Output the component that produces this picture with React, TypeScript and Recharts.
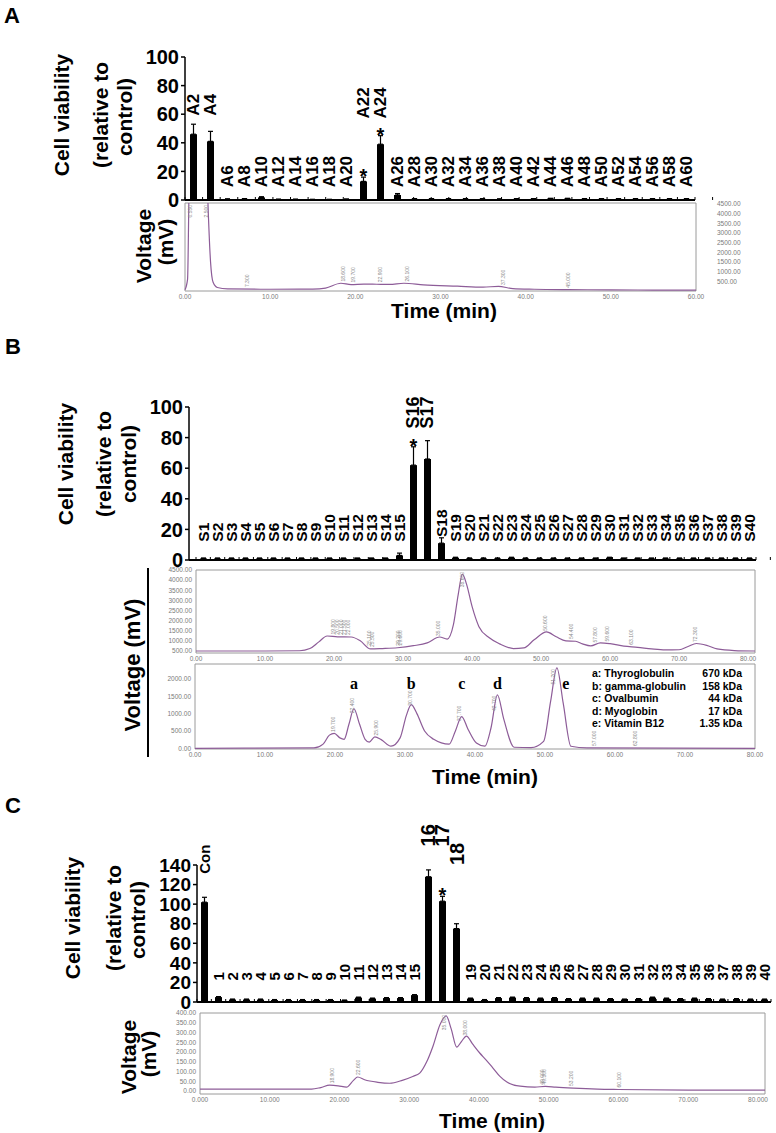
import React from "react";
import {
  BarChart,
  Bar,
  XAxis,
  YAxis,
  ErrorBar,
  LineChart,
  Line,
  ReferenceArea,
  ReferenceDot,
} from "recharts";

const FONT = "'Liberation Sans', Arial, Helvetica, sans-serif";
const SERIF = "'Liberation Serif', 'Times New Roman', serif";
const TRACE = "#8d5c98";
const FRAME = "#9a9a9a";
const TINY = "#7a7a7a";

// ─── Panel A: cell viability of the first fractionation ──────────────────────
const A_FRACTIONS = [
  "A2", "A4", "A6", "A8", "A10", "A12", "A14", "A16", "A18", "A20",
  "A22", "A24", "A26", "A28", "A30", "A32", "A34", "A36", "A38", "A40",
  "A42", "A44", "A46", "A48", "A50", "A52", "A54", "A56", "A58", "A60",
];
const A_VIABILITY = [
  46, 41, 0.6, 0.8, 1.8, 0.4, 0.4, 0.3, 0.3, 0.5,
  13, 39, 3.5, 0.8, 0.8, 0.8, 0.8, 0.8, 0.6, 0.8,
  0.8, 1, 1, 0.8, 0.8, 0.8, 0.8, 0.8, 0.8, 0.8,
];
const A_ERROR = [
  7, 7, 0.2, 0.2, 0.5, 0.2, 0.2, 0.2, 0.2, 0.2,
  3, 6, 1, 0.2, 0.2, 0.2, 0.2, 0.2, 0.2, 0.2,
  0.2, 0.2, 0.2, 0.2, 0.2, 0.2, 0.2, 0.2, 0.2, 0.2,
];
const A_STARS = ["A22", "A24"];

// chromatogram A (min, mV)
const A_TIME = [0, 0.3, 0.5, 0.8, 2.4, 2.7, 3.0, 3.3, 3.8, 5, 10, 15, 16.5, 18.3, 19.5, 21, 22.5, 24, 25.7, 28, 32, 35, 36.8, 38.5, 41, 45, 50, 55, 60];
const A_SIGNAL = [60, 600, 6000, 9000, 9000, 4500, 1500, 450, 180, 110, 90, 100, 150, 400, 330, 360, 350, 340, 400, 320, 250, 200, 240, 120, 90, 70, 60, 50, 50];
const A_PEAKS = [0.55, 2.5, 7.3, 18.6, 19.7, 22.9, 26.1, 37.3, 45.0];

// ─── Panel B: second fractionation ───────────────────────────────────────────
const B_FRACTIONS = [
  "S1", "S2", "S3", "S4", "S5", "S6", "S7", "S8", "S9", "S10",
  "S11", "S12", "S13", "S14", "S15", "S16", "S17", "S18", "S19", "S20",
  "S21", "S22", "S23", "S24", "S25", "S26", "S27", "S28", "S29", "S30",
  "S31", "S32", "S33", "S34", "S35", "S36", "S37", "S38", "S39", "S40",
];
const B_VIABILITY = [
  1, 1, 1, 1, 1, 1, 1, 1, 1, 1,
  1, 1, 1, 1, 3, 62, 66, 11, 1.5, 1,
  1, 1, 1.5, 1, 1, 1, 1, 1, 1, 1.5,
  1, 1, 1, 1, 1, 1, 1, 1, 1, 1,
];
const B_ERROR = [
  0.3, 0.3, 0.3, 0.3, 0.3, 0.3, 0.3, 0.3, 0.3, 0.3,
  0.3, 0.3, 0.3, 0.3, 1.5, 12, 12, 3.5, 0.3, 0.3,
  0.3, 0.3, 0.3, 0.3, 0.3, 0.3, 0.3, 0.3, 0.3, 0.3,
  0.3, 0.3, 0.3, 0.3, 0.3, 0.3, 0.3, 0.3, 0.3, 0.3,
];
const B_STARS = ["S16"];

// sample chromatogram (min, mV)
const B_TIME = [0, 10, 15, 16.5, 17.8, 19, 20.5, 22.5, 23.8, 25.3, 27, 29.2, 31.5, 33.5, 35.3, 36.4, 37.3, 38, 38.6, 39.2, 40, 41, 42.5, 44, 46, 47.5, 49, 50.8, 52.2, 53.6, 55, 56, 57.2, 58.6, 60, 62, 64, 66, 68, 70, 71.3, 72.5, 74, 75.5, 78, 81];
const B_SIGNAL = [500, 500, 510, 620, 950, 1240, 1200, 1190, 1000, 600, 620, 660, 760, 900, 1190, 1090, 1800, 3300, 4300, 3800, 2700, 1700, 1150, 850, 620, 650, 1050, 1440, 1200, 1000, 980, 850, 750, 900, 860, 740, 680, 600, 550, 560, 720, 870, 780, 600, 520, 500];
const B_PEAKS = [19.8, 20.5, 21.0, 21.5, 22.0, 25.1, 25.5, 29.2, 29.6, 35.0, 38.6, 50.6, 54.4, 57.8, 59.6, 63.1, 72.3];

// molecular weight standards (min, mV)
const STD_TIME = [0, 17, 18.3, 19.2, 19.9, 20.7, 21.3, 22, 22.7, 23.5, 24.3, 24.9, 25.7, 26.6, 28, 29.3, 30.2, 30.9, 31.7, 32.8, 34.1, 36.3, 37.2, 38.1, 39, 40.2, 41.4, 42.3, 43.2, 44.1, 45.6, 48, 49.8, 50.8, 51.7, 52.6, 53.7, 56, 80];
const STD_SIGNAL = [0, 10, 120, 380, 430, 300, 260, 700, 1140, 700, 260, 180, 330, 250, 60, 300, 950, 1260, 1000, 500, 260, 120, 500, 915, 550, 150, 60, 600, 1540, 850, 30, 20, 200, 1350, 2320, 1300, 60, 10, 0];
const STD_PEAK_TIMES = [19.7, 22.4, 25.9, 30.7, 37.7, 42.7, 51.2, 57.0, 62.8];
const STD_LETTERS = ["a", "b", "c", "d", "e"];
const STD_PEAKS = [22.7, 30.9, 38.1, 43.2, 51.7];
const STD_NAMES = ["Thyroglobulin", "gamma-globulin", "Ovalbumin", "Myoglobin", "Vitamin B12"];
const STD_SIZES = ["670 kDa", "158 kDa", "44  kDa", "17 kDa", "1.35 kDa"];

// ─── Panel C: third fractionation ────────────────────────────────────────────
const C_FRACTIONS = [
  "Con", "1", "2", "3", "4", "5", "6", "7", "8", "9", "10",
  "11", "12", "13", "14", "15", "16", "17", "18", "19", "20",
  "21", "22", "23", "24", "25", "26", "27", "28", "29", "30",
  "31", "32", "33", "34", "35", "36", "37", "38", "39", "40",
];
const C_VIABILITY = [
  102, 5, 2.5, 2.5, 2.5, 2, 2, 2, 2, 2, 1.5,
  4.5, 3.5, 4, 4, 7, 128, 103, 75, 3.5, 2,
  4, 4.5, 4, 3.5, 4, 3, 3.5, 3.5, 3, 2.5,
  3, 4.5, 3.5, 3, 3.5, 3, 2.5, 3, 2.5, 2.5,
];
const C_ERROR = [
  5, 0.5, 0.5, 0.5, 0.5, 0.5, 0.5, 0.5, 0.5, 0.5, 0.5,
  0.5, 0.5, 0.5, 0.5, 0.5, 7, 5, 5, 0.5, 0.5,
  0.5, 0.5, 0.5, 0.5, 0.5, 0.5, 0.5, 0.5, 0.5, 0.5,
  0.5, 0.5, 0.5, 0.5, 0.5, 0.5, 0.5, 0.5, 0.5, 0.5,
];
const C_STARS = ["17"];

const C_TIME = [0, 16, 17.3, 18.6, 19.8, 21, 22, 22.6, 23.6, 25.5, 27.2, 29, 30.5, 31.5, 32.5, 33.4, 34.4, 35.3, 36, 36.8, 37.5, 38.2, 39.1, 40.1, 41, 42, 43, 44, 45.9, 48, 49.5, 51, 53.5, 57, 60, 70, 81];
const C_SIGNAL = [10, 10, 18, 30, 27, 20, 55, 72, 58, 45, 40, 55, 75, 92, 150, 230, 340, 385, 320, 225, 255, 282, 240, 195, 160, 118, 75, 46, 25, 20, 24, 20, 15, 10, 8, 5, 5];
const C_PEAKS = [18.9, 22.6, 35.0, 38.0, 49.0, 49.3, 53.2, 60.1];

// ─── Helpers ─────────────────────────────────────────────────────────────────
type Rule = { tall: number; gap: number; low: number; starRoom: number };
type Row = {
  name: string;
  value: number;
  err: [number, number];
  star: boolean;
  reach: number;
  level: number;
  tall: boolean;
};

function buildRows(
  names: string[],
  values: number[],
  errors: number[],
  stars: string[],
  rule: Rule,
): Row[] {
  const isTall = (i: number) => values[i] >= rule.tall;
  const reach = values.map(
    (v, i) => v + errors[i] + (stars.includes(names[i]) ? rule.starRoom : 0),
  );
  return names.map((name, i) => {
    let level: number;
    if (isTall(i)) {
      const near = [i - 1, i, i + 1].filter(
        (j) => j >= 0 && j < names.length && isTall(j),
      );
      level = Math.max(...near.map((j) => reach[j])) + rule.gap;
    } else {
      level = Math.max(rule.low, values[i] + errors[i] + 0.5);
    }
    return {
      name,
      value: values[i],
      err: [0, errors[i]],
      star: stars.includes(name),
      reach: values[i] + errors[i],
      level,
      tall: isTall(i),
    };
  });
}

const range = (a: number, b: number, step: number) => {
  const out: number[] = [];
  for (let v = a; v <= b + 1e-9; v += step) out.push(v);
  return out;
};

// trace height at a given time (linear between read points)
function signalAt(times: number[], signal: number[], t: number) {
  for (let i = 1; i < times.length; i++) {
    if (t <= times[i]) {
      const f = (t - times[i - 1]) / (times[i] - times[i - 1]);
      return signal[i - 1] + f * (signal[i] - signal[i - 1]);
    }
  }
  return signal[signal.length - 1];
}

function barShape(fontFor: (r: Row) => number) {
  return (props: any) => {
    const { x, y, width, height, payload } = props;
    const r = payload as Row;
    const unit = r.value > 0 ? height / r.value : 0;
    const base = y + height;
    const cx = x + width / 2;
    const ly = base - r.level * unit;
    const sy = base - r.reach * unit;
    return (
      <g>
        <rect x={x} y={y} width={width} height={height} fill="#000" />
        <text
          transform={`rotate(-90 ${cx} ${ly})`}
          x={cx}
          y={ly}
          textAnchor="start"
          dominantBaseline="central"
          fontFamily={FONT}
          fontWeight={700}
          fontSize={fontFor(r)}
          fill="#000"
        >
          {r.name}
        </text>
        {r.star && (
          <text
            x={cx}
            y={sy + 6}
            textAnchor="middle"
            fontFamily={FONT}
            fontWeight={700}
            fontSize={20}
            fill="#000"
          >
            *
          </text>
        )}
      </g>
    );
  };
}

type ViabilityProps = {
  rows: Row[];
  top: number;
  height: number;
  margin: { top: number; right: number; bottom: number; left: number };
  yWidth: number;
  yMax: number;
  yStep: number;
  yFont: number;
  padLeft: number;
  fontFor: (r: Row) => number;
};

function ViabilityChart({ rows, top, height, margin, yWidth, yMax, yStep, yFont, padLeft, fontFor }: ViabilityProps) {
  const bounds = range(0, rows.length, 1);
  return (
    <div style={{ position: "absolute", left: 0, top, width: 776, height }}>
      <BarChart width={776} height={height} data={rows} margin={margin}>
        <XAxis xAxisId="cat" dataKey="name" hide padding={{ left: padLeft, right: 0 }} />
        <XAxis
          xAxisId="grid"
          type="number"
          domain={[0, rows.length]}
          ticks={bounds}
          interval={0}
          padding={{ left: padLeft, right: 0 }}
          height={2}
          mirror
          tickSize={3}
          tickFormatter={() => ""}
          axisLine={{ stroke: "#000", strokeWidth: 2 }}
          tickLine={{ stroke: "#000", strokeWidth: 1 }}
        />
        <YAxis
          width={yWidth}
          domain={[0, yMax]}
          ticks={range(0, yMax, yStep)}
          interval={0}
          tickSize={4}
          tickMargin={2}
          axisLine={{ stroke: "#000", strokeWidth: 1.5 }}
          tickLine={{ stroke: "#000", strokeWidth: 1.5 }}
          tick={{ fontSize: yFont, fontWeight: 700, fill: "#000", fontFamily: FONT }}
        />
        <Bar
          xAxisId="cat"
          dataKey="value"
          barSize={7}
          fill="#000"
          shape={barShape(fontFor)}
          isAnimationActive={false}
        >
          <ErrorBar dataKey="err" width={2.5} strokeWidth={1.2} stroke="#000" direction="y" />
        </Bar>
      </BarChart>
    </div>
  );
}

type ChromProps = {
  top: number;
  height: number;
  margin: { top: number; right: number; bottom: number; left: number };
  yWidth: number;
  yRight?: boolean;
  yTickSize: number;
  times: number[];
  signal: number[];
  peaks: number[];
  xMax: number;
  xTickMax: number;
  yDomain: [number, number];
  yTicks: number[];
  digits: number;
  children?: React.ReactNode;
};

function Chromatogram(p: ChromProps) {
  const rows = p.times.map((t, i) => ({ t, v: p.signal[i] }));
  const tinyTick = { fontSize: 6.5, fill: TINY, fontFamily: FONT };
  const top = p.yDomain[1];
  return (
    <div style={{ position: "absolute", left: 0, top: p.top, width: 776, height: p.height }}>
      <LineChart width={776} height={p.height} data={rows} margin={p.margin}>
        <XAxis
          dataKey="t"
          type="number"
          domain={[0, p.xMax]}
          ticks={range(0, p.xTickMax, 10)}
          interval={0}
          height={10}
          axisLine={false}
          tickLine={false}
          tickSize={1}
          tick={tinyTick}
          tickFormatter={(v: number) => v.toFixed(p.digits)}
        />
        <YAxis
          orientation={p.yRight ? "right" : "left"}
          width={p.yWidth}
          domain={p.yDomain}
          ticks={p.yTicks}
          interval={0}
          allowDataOverflow
          axisLine={false}
          tickLine={false}
          tickSize={p.yTickSize}
          tickMargin={1}
          tick={tinyTick}
          tickFormatter={(v: number) => v.toFixed(2)}
        />
        <ReferenceArea
          x1={0}
          x2={p.xMax}
          y1={p.yDomain[0]}
          y2={p.yDomain[1]}
          stroke={FRAME}
          strokeWidth={1}
          fill="none"
          fillOpacity={0}
        />
        <Line
          dataKey="v"
          type="monotone"
          stroke={TRACE}
          strokeWidth={1.2}
          dot={false}
          isAnimationActive={false}
        />
        {p.peaks.map((t) => {
          const h = signalAt(p.times, p.signal, t);
          const clipped = h >= top * 0.92;
          return (
            <ReferenceDot
              key={`pk${t}`}
              x={t}
              y={clipped ? top : h}
              r={0}
              ifOverflow="visible"
              shape={(s: any) => {
                const yy = clipped ? s.cy + 2 : s.cy - 2;
                return (
                  <text
                    transform={`rotate(-90 ${s.cx} ${yy})`}
                    x={s.cx}
                    y={yy}
                    textAnchor={clipped ? "end" : "start"}
                    dominantBaseline="central"
                    fontFamily={FONT}
                    fontSize={5}
                    fill="#8a8a8a"
                  >
                    {t.toFixed(3)}
                  </text>
                );
              }}
            />
          );
        })}
        {p.children}
      </LineChart>
    </div>
  );
}

function Rot({ x, y, size, children }: { x: number; y: number; size: number; children: React.ReactNode }) {
  return (
    <text
      transform={`rotate(-90 ${x} ${y})`}
      x={x}
      y={y}
      textAnchor="middle"
      dominantBaseline="central"
      fontFamily={FONT}
      fontWeight={700}
      fontSize={size}
      fill="#000"
    >
      {children}
    </text>
  );
}

function Plain({ x, y, size, children, anchor = "middle" }: { x: number; y: number; size: number; children: React.ReactNode; anchor?: string }) {
  return (
    <text
      x={x}
      y={y}
      textAnchor={anchor as any}
      dominantBaseline="central"
      fontFamily={FONT}
      fontWeight={700}
      fontSize={size}
      fill="#000"
    >
      {children}
    </text>
  );
}

const STD_LEVEL = 1700;

export default function App() {
  const aRows = buildRows(A_FRACTIONS, A_VIABILITY, A_ERROR, A_STARS, { tall: 10, gap: 6, low: 9, starRoom: 6 });
  const bRows = buildRows(B_FRACTIONS, B_VIABILITY, B_ERROR, B_STARS, { tall: 20, gap: 6, low: 12, starRoom: 6 });
  const cRows = buildRows(C_FRACTIONS, C_VIABILITY, C_ERROR, C_STARS, { tall: 20, gap: 24, low: 22, starRoom: 8 });

  return (
    <div style={{ position: "absolute", left: 0, top: 0, width: 776, height: 1133, background: "#fff", overflow: "hidden" }}>
      {/* Panel A */}
      <ViabilityChart
        rows={aRows}
        top={0}
        height={215}
        margin={{ top: 57, right: 81, bottom: 15, left: 0 }}
        yWidth={185}
        yMax={100}
        yStep={20}
        yFont={20}
        padLeft={0}
        fontFor={() => 17}
      />
      <Chromatogram
        top={195}
        height={110}
        margin={{ top: 8, right: 30, bottom: 4, left: 185 }}
        yWidth={50}
        yRight
        yTickSize={20}
        times={A_TIME}
        signal={A_SIGNAL}
        peaks={A_PEAKS}
        xMax={60}
        xTickMax={60}
        yDomain={[0, 4550]}
        yTicks={range(500, 4500, 500)}
        digits={2}
      />

      {/* Panel B */}
      <ViabilityChart
        rows={bRows}
        top={380}
        height={195}
        margin={{ top: 27, right: 20, bottom: 15, left: 0 }}
        yWidth={189}
        yMax={100}
        yStep={20}
        yFont={20}
        padLeft={7}
        fontFor={(r) => (r.tall ? 18 : 15.5)}
      />
      <Chromatogram
        top={560}
        height={106}
        margin={{ top: 10, right: 21, bottom: 3, left: 0 }}
        yWidth={196}
        yTickSize={3}
        times={B_TIME}
        signal={B_SIGNAL}
        peaks={B_PEAKS}
        xMax={81}
        xTickMax={80}
        yDomain={[400, 4500]}
        yTicks={range(500, 4500, 500)}
        digits={2}
      />
      <Chromatogram
        top={655}
        height={107}
        margin={{ top: 9, right: 21, bottom: 3, left: 0 }}
        yWidth={195}
        yTickSize={3}
        times={STD_TIME}
        signal={STD_SIGNAL}
        peaks={STD_PEAK_TIMES}
        xMax={80}
        xTickMax={80}
        yDomain={[-20, 2430]}
        yTicks={range(0, 2000, 500)}
        digits={2}
      >
        {STD_LETTERS.map((l, i) => (
          <ReferenceDot
            key={l}
            x={STD_PEAKS[i]}
            y={STD_LEVEL}
            r={0}
            shape={(s: any) => (
              <text
                x={s.cx + (l === "e" ? 9 : 0)}
                y={s.cy}
                textAnchor="middle"
                fontFamily={SERIF}
                fontWeight={700}
                fontSize={16}
                fill="#000"
              >
                {l}
              </text>
            )}
          />
        ))}
      </Chromatogram>

      {/* Panel C */}
      <ViabilityChart
        rows={cRows}
        top={780}
        height={237}
        margin={{ top: 85, right: 5, bottom: 15, left: 0 }}
        yWidth={197}
        yMax={140}
        yStep={20}
        yFont={19}
        padLeft={0}
        fontFor={(r) => (r.tall && r.name !== "Con" ? 20 : 15)}
      />
      <Chromatogram
        top={1005}
        height={102}
        margin={{ top: 8, right: 11, bottom: 3, left: 0 }}
        yWidth={200}
        yTickSize={3}
        times={C_TIME}
        signal={C_SIGNAL}
        peaks={C_PEAKS}
        xMax={81}
        xTickMax={80}
        yDomain={[-15, 400]}
        yTicks={range(0, 400, 50)}
        digits={3}
      />

      {/* titles, panel letters and the standards legend */}
      <svg
        width={776}
        height={1133}
        style={{ position: "absolute", left: 0, top: 0, pointerEvents: "none" }}
      >
        <Plain x={4} y={15} size={22} anchor="start">A</Plain>
        <Rot x={61} y={115} size={21}>Cell viability</Rot>
        <Rot x={100} y={115} size={21}>(relative to</Rot>
        <Rot x={124} y={117} size={21}>control)</Rot>
        <Rot x={143} y={246} size={21}>Voltage</Rot>
        <Rot x={165} y={242} size={21}>(mV)</Rot>
        <Plain x={444} y={310} size={21}>Time (min)</Plain>

        <Plain x={5} y={346} size={22} anchor="start">B</Plain>
        <Rot x={65} y={464} size={21}>Cell viability</Rot>
        <Rot x={103} y={464} size={21}>(relative to</Rot>
        <Rot x={128} y={464} size={21}>control)</Rot>
        <Rot x={132} y={665} size={22}>Voltage (mV)</Rot>
        <line x1={148} y1={568} x2={148} y2={757} stroke="#000" strokeWidth={2} />
        <Plain x={485} y={776} size={21}>Time (min)</Plain>
        {STD_NAMES.map((n, i) => (
          <g key={n}>
            <Plain x={592} y={673 + i * 12.5} size={10.5} anchor="start">
              {`${STD_LETTERS[i]}: ${n}`}
            </Plain>
            <Plain x={742} y={673 + i * 12.5} size={10.5} anchor="end">
              {STD_SIZES[i]}
            </Plain>
          </g>
        ))}

        <Plain x={5} y={805} size={22} anchor="start">C</Plain>
        <Rot x={72} y={918} size={21}>Cell viability</Rot>
        <Rot x={113} y={918} size={21}>(relative to</Rot>
        <Rot x={137} y={920} size={21}>control)</Rot>
        <Rot x={128} y={1057} size={21}>Voltage</Rot>
        <Rot x={148} y={1054} size={21}>(mV)</Rot>
        <Plain x={492} y={1120} size={21}>Time (min)</Plain>
      </svg>
    </div>
  );
}
